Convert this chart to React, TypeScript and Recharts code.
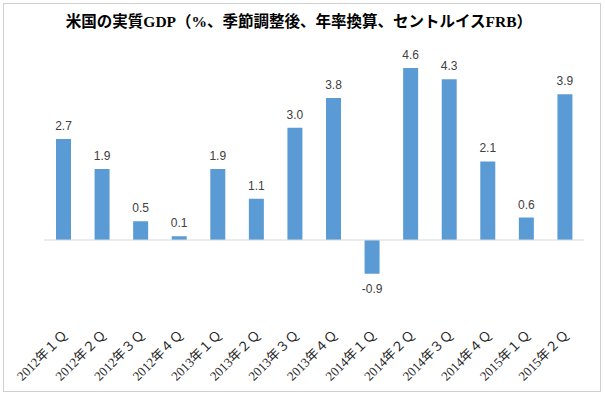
import React from "react";
import { BarChart, Bar, XAxis, YAxis, ReferenceLine, LabelList } from "recharts";

const categories = [
  "2012年１Ｑ", "2012年２Ｑ", "2012年３Ｑ", "2012年４Ｑ",
  "2013年１Ｑ", "2013年２Ｑ", "2013年３Ｑ", "2013年４Ｑ",
  "2014年１Ｑ", "2014年２Ｑ", "2014年３Ｑ", "2014年４Ｑ",
  "2015年１Ｑ", "2015年２Ｑ",
];
const gdpValues = [2.7, 1.9, 0.5, 0.1, 1.9, 1.1, 3.0, 3.8, -0.9, 4.6, 4.3, 2.1, 0.6, 3.9];
const title = "米国の実質GDP（%、季節調整後、年率換算、セントルイスFRB）";

const data = categories.map((c, i) => ({ name: c, value: gdpValues[i] }));

const CategoryTick = (props: any) => {
  const { x, y, payload } = props;
  const ax = x + 5;
  const ay = y + 2;
  return (
    <text
      x={ax}
      y={ay}
      transform={`rotate(-45 ${ax} ${ay})`}
      textAnchor="end"
      fontSize={13}
      fill="#262626"
      fontFamily="'Liberation Serif', 'Noto Sans CJK JP', serif"
    >
      {payload.value}
    </text>
  );
};

const ValueLabel = (props: any) => {
  const { x, y, width, height, value } = props;
  const top = Math.min(y, y + height);
  const bottom = Math.max(y, y + height);
  const cx = x + width / 2;
  const ty = value >= 0 ? top - 9 : bottom + 19;
  return (
    <text
      x={cx}
      y={ty}
      textAnchor="middle"
      fontSize={12}
      fill="#404040"
      fontFamily="'Liberation Sans', Arial, sans-serif"
    >
      {Number(value).toFixed(1)}
    </text>
  );
};

export default function App() {
  return (
    <div style={{ position: "absolute", left: 0, top: 0, width: 605, height: 396, background: "#fff" }}>
      <div
        style={{
          position: "absolute",
          left: 3,
          top: 3,
          width: 596,
          height: 387,
          border: "1px solid #d0d0d0",
        }}
      />
      <div
        style={{
          position: "absolute",
          left: 0,
          top: 12,
          width: 598,
          textAlign: "center",
          fontSize: 15.5,
          fontWeight: "bold",
          color: "#000",
          fontFamily: "'Liberation Serif', 'Noto Sans CJK JP', serif",
          lineHeight: "20px",
        }}
      >
        {title}
      </div>
      <div style={{ position: "absolute", left: 0, top: 0 }}>
        <BarChart
          width={605}
          height={396}
          data={data}
          margin={{ top: 53, right: 21, bottom: 0, left: 44 }}
        >
          <XAxis
            dataKey="name"
            axisLine={false}
            tickLine={false}
            tickSize={0}
            tickMargin={0}
            height={62.5}
            interval={0}
            tick={<CategoryTick />}
          />
          <YAxis hide domain={[-2.5, 5]} allowDataOverflow />
          <ReferenceLine y={0} stroke="#d9d9d9" strokeWidth={1} />
          <Bar dataKey="value" fill="#5b9bd5" barSize={15} isAnimationActive={false}>
            <LabelList dataKey="value" content={<ValueLabel />} />
          </Bar>
        </BarChart>
      </div>
    </div>
  );
}
